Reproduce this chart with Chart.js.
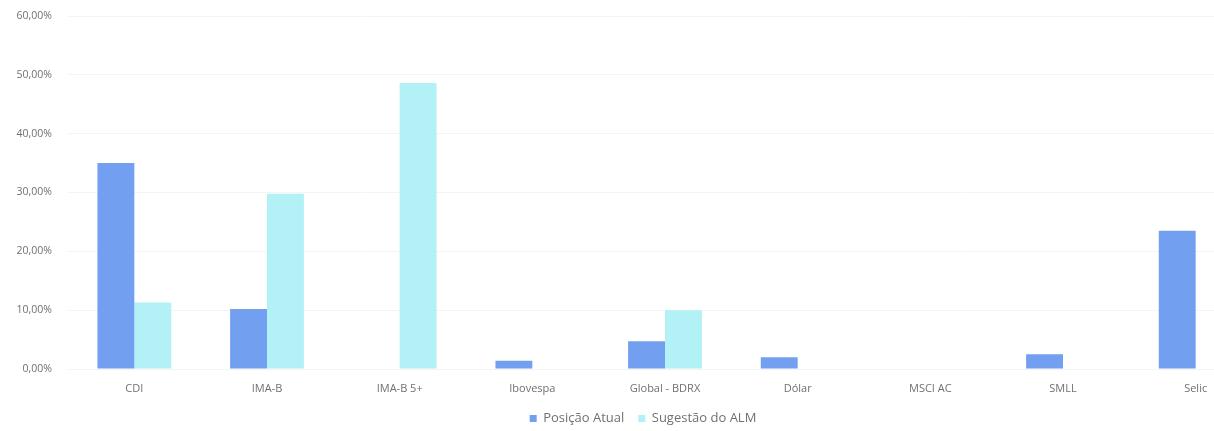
<!DOCTYPE html>
<html>
<head>
<meta charset="utf-8">
<script src="https://cdn.jsdelivr.net/npm/chart.js@4/dist/chart.umd.min.js"></script>
<style>
  html, body { margin: 0; padding: 0; background: #fff; overflow: hidden; }
</style>
</head>
<body>
<canvas id="barChart" width="1280" height="431"></canvas>
<script>
  // categories and values (percent)
  var categories = ['CDI', 'IMA-B', 'IMA-B 5+', 'Ibovespa', 'Global - BDRX', 'Dólar', 'MSCI AC', 'SMLL', 'Selic'];
  var posicaoAtual = [35.0, 10.2, 0, 1.4, 4.7, 2.0, 0, 2.5, 23.5];
  var sugestaoALM = [11.3, 29.8, 48.6, 0, 10.0, 0, 0, 0, 0];
  var yTickLabels = ['0,00%', '10,00%', '20,00%', '30,00%', '40,00%', '50,00%', '60,00%'];

  var ctx = document.getElementById('barChart').getContext('2d');

  var data = {
    labels: categories,
    datasets: [{
      label: 'Posição Atual',
      data: posicaoAtual,
      backgroundColor: '#729ff0'
    }, {
      label: 'Sugestão do ALM',
      data: sugestaoALM,
      backgroundColor: '#b2f1f6'
    }]
  };

  var options = {
    responsive: false,
    animation: false,
    layout: { padding: { top: 16, right: 18, bottom: -4, left: 0 } },
    datasets: { bar: { categoryPercentage: 0.556, barPercentage: 1.0 } },
    scales: {
      x: {
        grid: { display: false },
        border: { display: false },
        ticks: { color: '#707070', padding: 5, font: { family: 'Open Sans', size: 11 } },
        afterFit: function (s) { s.height = 29; }
      },
      y: {
        min: 0,
        max: 60,
        grid: { color: '#f4f4f4', drawTicks: false },
        border: { display: false },
        ticks: {
          stepSize: 10,
          padding: 16,
          color: '#707070',
          font: { family: 'Open Sans', size: 10.5 },
          callback: function (value, index) { return yTickLabels[index]; }
        },
        afterFit: function (s) {
          s.width = 68;
          // tick padding would otherwise push the plot top down
          s.paddingTop = 6;
          s.paddingBottom = 6;
        }
      }
    },
    plugins: {
      legend: {
        position: 'bottom',
        labels: {
          boxWidth: 7,
          boxHeight: 7,
          padding: 14,
          color: '#707070',
          font: { family: 'Open Sans', size: 13 }
        }
      },
      tooltip: { enabled: false }
    }
  };

  // legend sits a little right of the canvas centre in the original
  var legendNudge = {
    id: 'legendNudge',
    afterLayout: function (chart) {
      chart.legend.left += 12;
      chart.legend.right += 12;
    }
  };

  var myBarChart = new Chart(ctx, {
    type: 'bar',
    data: data,
    options: options,
    plugins: [legendNudge]
  });
</script>
</body>
</html>
